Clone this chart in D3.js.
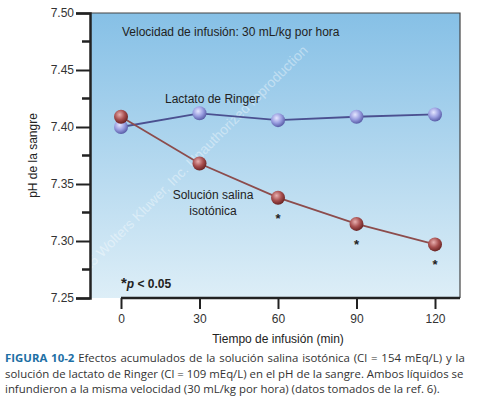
<!DOCTYPE html>
<html>
<head>
<meta charset="utf-8">
<script src="https://cdn.jsdelivr.net/npm/d3@7"></script>
<style>
  body { margin: 0; background: #fff; }
  svg { font-family: "Liberation Sans", Arial, sans-serif; }
</style>
</head>
<body>
<svg id="chart"></svg>
<script>
const width = 484;
const height = 399;

// data
const times = [0, 30, 60, 90, 120];
const ringer = [7.400, 7.412, 7.406, 7.409, 7.411];
const saline = [7.409, 7.368, 7.338, 7.315, 7.297];
const significant = [false, false, true, true, true];
const yTicks = [7.25, 7.30, 7.35, 7.40, 7.45, 7.50];
const yMinor = [7.275, 7.325, 7.375, 7.425, 7.475];

const svg = d3.select("#chart")
  .attr("width", width)
  .attr("height", height);

const x = d3.scaleLinear().domain([0, 120]).range([121, 435]);
const y = d3.scaleLinear().domain([7.25, 7.50]).range([298, 13]);

const defs = svg.append("defs");

const bg = defs.append("linearGradient").attr("id", "bg")
  .attr("x1", 0).attr("y1", 0).attr("x2", 0).attr("y2", 1);
bg.append("stop").attr("offset", "0%").attr("stop-color", "#86c0e6");
bg.append("stop").attr("offset", "100%").attr("stop-color", "#ddeef7");

function ball(id, light, mid, dark) {
  const g = defs.append("radialGradient").attr("id", id)
    .attr("cx", "40%").attr("cy", "35%").attr("r", "65%");
  g.append("stop").attr("offset", "0%").attr("stop-color", light);
  g.append("stop").attr("offset", "55%").attr("stop-color", mid);
  g.append("stop").attr("offset", "100%").attr("stop-color", dark);
}
ball("blueBall", "#e4e6ff", "#9a9ee0", "#5a5ea8");
ball("redBall", "#e8b0b0", "#a85050", "#6a2424");

// plot area
svg.append("rect")
  .attr("x", 90).attr("y", y(7.50))
  .attr("width", 460 - 90).attr("height", y(7.25) - y(7.50))
  .attr("fill", "url(#bg)");

// frame lines top/right
svg.append("path")
  .attr("d", `M90,${y(7.5)}H460V${y(7.25)}`)
  .attr("fill", "none").attr("stroke", "#444").attr("stroke-width", 1.2);

// watermark
svg.append("text")
  .attr("transform", "translate(22,338) rotate(-45)")
  .attr("font-size", 14)
  .attr("fill", "#ffffff").attr("fill-opacity", 0.4)
  .text("Copyright © 2025 Wolters Kluwer, Inc. Unauthorized reproduction");

// y axis
const yAxis = svg.append("g").attr("transform", "translate(90,0)")
  .call(d3.axisLeft(y).tickValues(yTicks).tickFormat(d3.format(".2f")).tickSize(14).tickPadding(2));
yAxis.select(".domain").attr("stroke", "#222").attr("stroke-width", 2.5);
yAxis.selectAll(".tick line").attr("stroke", "#222").attr("stroke-width", 2);
yAxis.selectAll(".tick text").attr("font-size", 12).attr("fill", "#333")
  .attr("font-family", "Liberation Sans, Arial, sans-serif");

svg.append("g").selectAll("line")
  .data(yMinor).join("line")
  .attr("x1", 82).attr("x2", 90)
  .attr("y1", d => y(d)).attr("y2", d => y(d))
  .attr("stroke", "#222").attr("stroke-width", 2.5);

// x axis
const xAxis = svg.append("g").attr("transform", `translate(0,${y(7.25)})`)
  .call(d3.axisBottom(x).tickValues(times).tickSize(11).tickPadding(5).tickSizeOuter(0));
xAxis.select(".domain").attr("d", `M${x(0)},0H460`).attr("stroke", "#222").attr("stroke-width", 2.5);
xAxis.selectAll(".tick line").attr("stroke", "#222").attr("stroke-width", 2);
xAxis.selectAll(".tick text").attr("font-size", 12).attr("fill", "#333")
  .attr("font-family", "Liberation Sans, Arial, sans-serif");

// axis titles
svg.append("text")
  .attr("x", 278).attr("y", 343)
  .attr("text-anchor", "middle").attr("font-size", 12).attr("fill", "#222")
  .text("Tiempo de infusión (min)");
svg.append("text")
  .attr("transform", `translate(37,${y(7.375)}) rotate(-90)`)
  .attr("text-anchor", "middle").attr("font-size", 12).attr("fill", "#222")
  .text("pH de la sangre");

// lines
const line = d3.line().x((d, i) => x(times[i])).y(d => y(d));
svg.append("path").datum(ringer)
  .attr("d", line).attr("fill", "none")
  .attr("stroke", "#4b5090").attr("stroke-width", 1.8);
svg.append("path").datum(saline)
  .attr("d", line).attr("fill", "none")
  .attr("stroke", "#8c4c4c").attr("stroke-width", 1.8);

// markers
svg.append("g").selectAll("circle")
  .data(ringer).join("circle")
  .attr("cx", (d, i) => x(times[i])).attr("cy", d => y(d))
  .attr("r", 7).attr("fill", "url(#blueBall)");
svg.append("g").selectAll("circle")
  .data(saline).join("circle")
  .attr("cx", (d, i) => x(times[i])).attr("cy", d => y(d))
  .attr("r", 7).attr("fill", "url(#redBall)");

// asterisks for p < 0.05
svg.append("g").selectAll("text")
  .data(saline.map((v, i) => ({ v, t: times[i], s: significant[i] })).filter(d => d.s))
  .join("text")
  .attr("x", d => x(d.t)).attr("y", d => y(d.v) + 25)
  .attr("text-anchor", "middle").attr("font-size", 13).attr("font-weight", "bold")
  .attr("fill", "#222")
  .text("*");

// annotations
svg.append("text")
  .attr("x", 122).attr("y", 36)
  .attr("font-size", 12).attr("fill", "#222")
  .text("Velocidad de infusión: 30 mL/kg por hora");
svg.append("text")
  .attr("x", 165).attr("y", 103)
  .attr("font-size", 12).attr("fill", "#222")
  .text("Lactato de Ringer");
svg.append("text")
  .attr("x", 213).attr("y", 199)
  .attr("text-anchor", "middle").attr("font-size", 12).attr("fill", "#222")
  .text("Solución salina");
svg.append("text")
  .attr("x", 213).attr("y", 215)
  .attr("text-anchor", "middle").attr("font-size", 12).attr("fill", "#222")
  .text("isotónica");

const pLab = svg.append("text")
  .attr("x", 121).attr("y", 288)
  .attr("font-size", 12).attr("font-weight", "bold").attr("fill", "#222");
pLab.append("tspan").attr("font-size", 15).attr("dy", 0).text("*");
pLab.append("tspan").attr("font-style", "italic").text("p");
pLab.append("tspan").text(" < 0.05");

// caption
const caption = [
  [{ t: "FIGURA 10-2", bold: true }, { t: "  Efectos acumulados de la solución salina isotónica (Cl = 154 mEq/L) y la" }],
  [{ t: "solución de lactato de Ringer (Cl = 109 mEq/L) en el pH de la sangre. Ambos líquidos se" }],
  [{ t: "infundieron a la misma velocidad (30 mL/kg por hora) (datos tomados de la ref. 6)." }]
];
const capSpacing = [0.9, 0, 0];
const cap = svg.append("g");
caption.forEach((parts, i) => {
  const t = cap.append("text")
    .attr("x", 5).attr("y", 362 + i * 15.5)
    .attr("font-size", 11.4).attr("fill", "#333")
    .attr("word-spacing", capSpacing[i])
    .attr("font-family", "Open Sans, Lato, sans-serif");
  parts.forEach(p => {
    t.append("tspan")
      .attr("font-weight", p.bold ? "bold" : "normal")
      .attr("fill", p.bold ? "#1d6fa5" : "#333")
      .text(p.t);
  });
});
</script>
</body>
</html>
